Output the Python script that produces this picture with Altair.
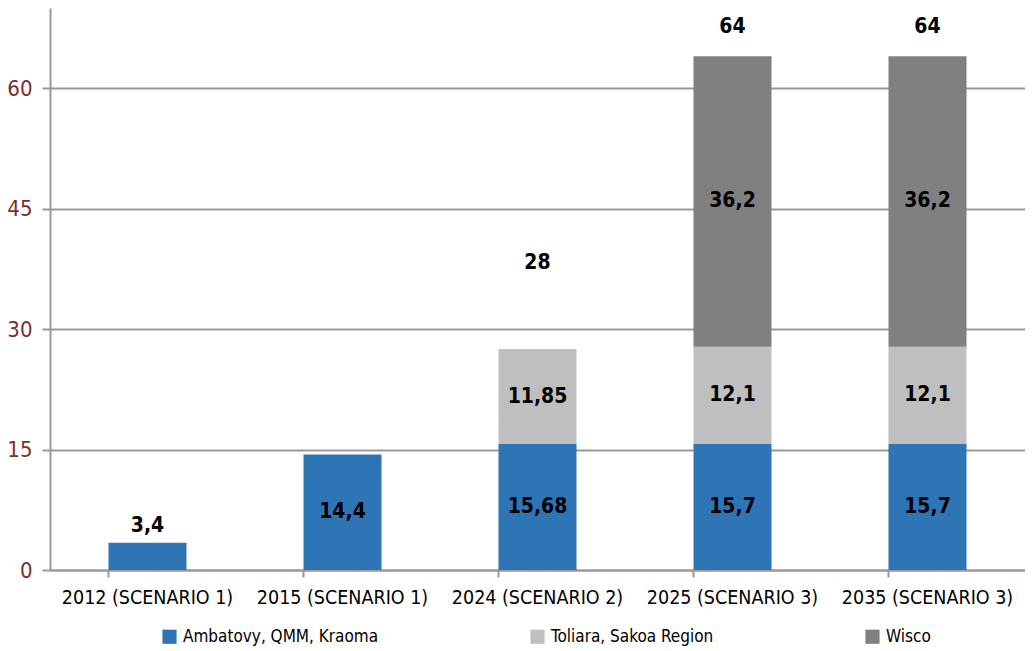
import altair as alt
import pandas as pd

categories = ["2012 (SCENARIO 1)", "2015 (SCENARIO 1)", "2024 (SCENARIO 2)",
              "2025 (SCENARIO 3)", "2035 (SCENARIO 3)"]
series = ["Ambatovy, QMM, Kraoma", "Toliara, Sakoa Region", "Wisco"]
ambatovy = [3.4, 14.4, 15.68, 15.7, 15.7]
toliara = [0, 0, 11.85, 12.1, 12.1]
wisco = [0, 0, 0, 36.2, 36.2]
total_labels = ["3,4", "", "28", "64", "64"]
total_label_y = [5.45, 0, 38.3, 67.6, 67.6]
colors = ["#2E75B6", "#BFBFBF", "#808080"]

FONT = "'DejaVu Sans Condensed', 'Roboto Condensed', 'Liberation Sans Narrow', Roboto, sans-serif"

rows = []
for i, c in enumerate(categories):
    start = 0.0
    for s, vals in zip(series, [ambatovy, toliara, wisco]):
        v = vals[i]
        if v > 0:
            label = ("%g" % v).replace(".", ",") if v >= 5 else ""
            rows.append({"cat": c, "series": s, "order": series.index(s),
                         "y0": start, "y1": start + v, "mid": start + v / 2,
                         "label": label})
            start += v
seg = pd.DataFrame(rows)

tot = pd.DataFrame({"cat": categories, "label": total_labels, "ypos": total_label_y})
tot = tot[tot["label"] != ""]

xenc = alt.X("cat:N", sort=categories, title=None,
             scale=alt.Scale(paddingInner=0.6, paddingOuter=0.3),
             axis=alt.Axis(labelAngle=0, labelFont=FONT, labelFontSize=19.5,
                           labelColor="#000000", labelPadding=11,
                           domainColor="#999999", domainWidth=2,
                           tickColor="#999999", tickWidth=2, tickSize=7,
                           bandPosition=0, grid=False))

bars = alt.Chart(seg).mark_bar().encode(
    x=xenc,
    y=alt.Y("y0:Q", title=None,
            scale=alt.Scale(domain=[0, 70], nice=False),
            axis=alt.Axis(values=[0, 15, 30, 45, 60], labelFont=FONT,
                          labelFontSize=22, labelColor="#7A2E2E",
                          labelPadding=10, domainColor="#999999", domainWidth=2,
                          tickColor="#999999", tickWidth=2, tickSize=8,
                          gridColor="#999999", gridWidth=2)),
    y2="y1:Q",
    color=alt.Color("series:N", sort=series,
                    scale=alt.Scale(domain=series, range=colors),
                    legend=alt.Legend(title=None, orient="none", direction="horizontal",
                                      legendX=111, legendY=620,
                                      labelFont=FONT, labelFontSize=17,
                                      labelColor="#000000", labelLimit=400,
                                      symbolType="square", symbolSize=200,
                                      symbolStrokeWidth=0,
                                      columnPadding=150, labelOffset=5)),
    order="order:Q",
)

seg_text = alt.Chart(seg).mark_text(font=FONT, fontSize=21, fontWeight="bold",
                                    color="#000000").encode(
    x=alt.X("cat:N", sort=categories),
    y=alt.Y("mid:Q"),
    text="label:N",
)

tot_text = alt.Chart(tot).mark_text(font=FONT, fontSize=21, fontWeight="bold",
                                    color="#000000").encode(
    x=alt.X("cat:N", sort=categories),
    y=alt.Y("ypos:Q"),
    text="label:N",
)

chart = alt.layer(bars, seg_text, tot_text).properties(
    width=975, height=562,
    autosize=alt.AutoSizeParams(type="none"),
    padding={"left": 42, "top": 0, "right": 0, "bottom": 80},
).configure_view(stroke=None)

chart.save("out.html", embed_options={"renderer": "svg", "actions": False})
